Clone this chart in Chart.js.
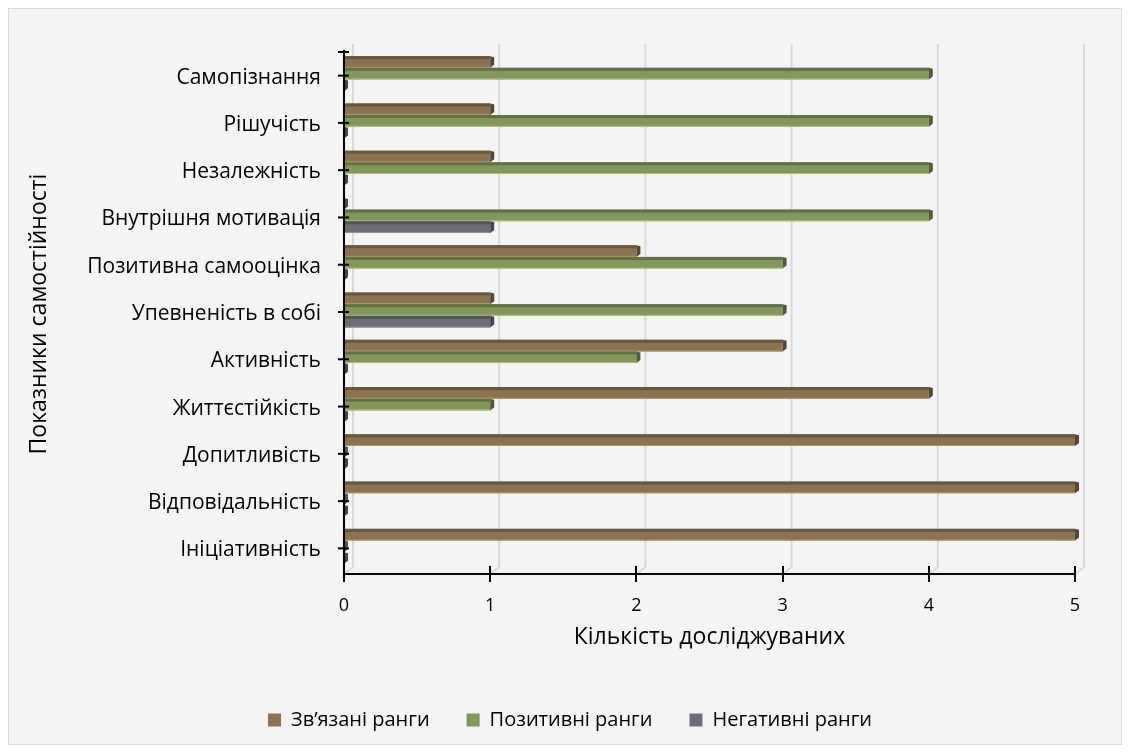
<!DOCTYPE html>
<html lang="uk">
<head>
<meta charset="utf-8">
<title>Показники самостійності</title>
<script src="https://cdn.jsdelivr.net/npm/chart.js@4/dist/chart.umd.min.js"></script>
<style>
    html, body { margin: 0; padding: 0; background: #ffffff; }
    #wrap { position: relative; width: 1130px; height: 753px; }
</style>
</head>
<body>
<div id="wrap"><canvas id="chart" width="1130" height="753"></canvas></div>
<script>
// Показники самостійності (зверху вниз)
const categories = [
    'Самопізнання', 'Рішучість', 'Незалежність', 'Внутрішня мотивація',
    'Позитивна самооцінка', 'Упевненість в собі', 'Активність',
    'Життєстійкість', 'Допитливість', 'Відповідальність', 'Ініціативність'
];
const tiedRanks     = [1, 1, 1, 0, 2, 1, 3, 4, 5, 5, 5];
const positiveRanks = [4, 4, 4, 4, 3, 3, 2, 1, 0, 0, 0];
const negativeRanks = [0, 0, 0, 1, 0, 1, 0, 0, 0, 0, 0];
const valueTicks = [0, 1, 2, 3, 4, 5];

const FONT = '"Open Sans", "Noto Sans", sans-serif';
const DEPTH = 9;     // зсув задньої стінки
const LIFT = 4;      // смуги трохи вище за центр категорії

function shade(rgb, k) {
    return 'rgb(' + rgb.map(c => Math.min(255, Math.round(c * k))).join(',') + ')';
}

const palette = {
    tied: [139, 115, 81],
    pos: [131, 150, 91],
    neg: [110, 110, 118]
};

// рамка і фон
const frame = {
    id: 'frame',
    beforeDraw(chart) {
        const ctx = chart.ctx;
        ctx.save();
        ctx.fillStyle = '#ffffff';
        ctx.fillRect(0, 0, chart.width, chart.height);
        ctx.fillStyle = '#f4f4f4';
        ctx.fillRect(8, 8, chart.width - 16, chart.height - 16);
        ctx.strokeStyle = '#d9d9d9';
        ctx.lineWidth = 1;
        ctx.strokeRect(8.5, 8.5, chart.width - 17, chart.height - 17);
        ctx.restore();
    },
    // легенда по центру всього полотна, а не області з відступами
    afterLayout(chart) {
        const lg = chart.legend;
        const shift = (chart.width - (lg.left + lg.right)) / 2 + 5;
        lg.left += shift;
        lg.right += shift;
    }
};

// задня стінка: вертикальні лінії сітки з перспективою
const backWall = {
    id: 'backWall',
    beforeDatasetsDraw(chart) {
        const { ctx, chartArea } = chart;
        const xs = chart.scales.x;
        ctx.save();
        ctx.strokeStyle = '#d9d9d9';
        ctx.lineWidth = 2;
        valueTicks.forEach(v => {
            const px = xs.getPixelForValue(v);
            ctx.beginPath();
            ctx.moveTo(px + DEPTH, chartArea.top - 10);
            ctx.lineTo(px + DEPTH, chartArea.bottom - 7);
            ctx.lineTo(px, chartArea.bottom);
            ctx.stroke();
        });
        ctx.restore();
    },
    beforeDatasetDraw(chart) {
        chart.ctx.save();
        chart.ctx.translate(0, -LIFT);
    },
    afterDatasetDraw(chart) {
        chart.ctx.restore();
    }
};

// об'ємні грані смуг і осі з рисками
const bars3d = {
    id: 'bars3d',
    afterDatasetsDraw(chart) {
        const { ctx, chartArea } = chart;
        ctx.save();
        chart.data.datasets.forEach((ds, i) => {
            const meta = chart.getDatasetMeta(i);
            const rgb = ds.rgb;
            meta.data.forEach(bar => {
                const p = bar.getProps(['x', 'y', 'base', 'height'], true);
                const top = p.y - p.height / 2 - LIFT;
                const bottom = p.y + p.height / 2 - LIFT;
                const end = p.x;
                // верхня грань і світлий низ
                if (end - p.base > 0) {
                    ctx.fillStyle = shade(rgb, 0.75);
                    ctx.fillRect(p.base, top, end - p.base, 3);
                    ctx.fillStyle = shade(rgb, 1.3);
                    ctx.fillRect(p.base, bottom - 1, end - p.base, 1);
                }
                // торець
                ctx.fillStyle = shade(rgb, 0.62);
                ctx.beginPath();
                ctx.moveTo(end, top);
                ctx.lineTo(end + 4, top + 1);
                ctx.lineTo(end + 4, bottom - 3);
                ctx.lineTo(end, bottom);
                ctx.closePath();
                ctx.fill();
            });
        });

        // осі
        const xs = chart.scales.x;
        const ys = chart.scales.y;
        ctx.strokeStyle = '#000000';
        ctx.lineWidth = 2;
        ctx.beginPath();
        ctx.moveTo(chartArea.left, chartArea.top - 4);
        ctx.lineTo(chartArea.left, chartArea.bottom);
        ctx.lineTo(chartArea.right, chartArea.bottom);
        ctx.stroke();
        // риски по осі значень
        valueTicks.forEach(v => {
            const px = Math.round(xs.getPixelForValue(v));
            ctx.beginPath();
            ctx.moveTo(px, chartArea.bottom - 8);
            ctx.lineTo(px, chartArea.bottom + 8);
            ctx.stroke();
        });
        // риски по осі категорій
        const marks = [chartArea.top - 2].concat(categories.map((c, i) => ys.getPixelForValue(i) - 2));
        marks.forEach(py => {
            ctx.beginPath();
            ctx.moveTo(chartArea.left - 6, py);
            ctx.lineTo(chartArea.left + 5, py);
            ctx.stroke();
        });
        ctx.restore();
    }
};

function makeSet(label, data, rgb) {
    return {
        label,
        data,
        rgb,
        backgroundColor: shade(rgb, 1),
        borderWidth: 0,
        clip: false,
        categoryPercentage: 0.74,
        barPercentage: 1.0
    };
}

new Chart(document.getElementById('chart'), {
    type: 'bar',
    data: {
        labels: categories,
        datasets: [
            makeSet('Зв’язані ранги', tiedRanks, palette.tied),
            makeSet('Позитивні ранги', positiveRanks, palette.pos),
            makeSet('Негативні ранги', negativeRanks, palette.neg)
        ]
    },
    options: {
        indexAxis: 'y',
        responsive: false,
        animation: false,
        layout: { padding: { left: 22, right: 55, top: 54, bottom: 13 } },
        plugins: {
            legend: {
                position: 'bottom',
                labels: {
                    boxWidth: 13,
                    boxHeight: 13,
                    padding: 37,
                    color: '#000000',
                    font: { family: FONT, size: 20 }
                }
            },
            tooltip: { enabled: false }
        },
        scales: {
            x: {
                min: 0,
                max: 5,
                grid: { display: false, drawTicks: false },
                border: { display: false },
                ticks: {
                    stepSize: 1,
                    padding: 21,
                    color: '#000000',
                    font: { family: FONT, size: 18 }
                },
                title: {
                    display: true,
                    text: 'Кількість досліджуваних',
                    color: '#000000',
                    font: { family: FONT, size: 23 },
                    padding: { top: 4, bottom: 22 }
                },
                afterFit(scale) { scale.height = 99; }
            },
            y: {
                grid: { display: false, drawTicks: false },
                border: { display: false },
                ticks: {
                    padding: 23,
                    color: '#000000',
                    font: { family: FONT, size: 21 }
                },
                title: {
                    display: true,
                    text: 'Показники самостійності',
                    color: '#000000',
                    font: { family: FONT, size: 23 },
                    padding: { top: 4, bottom: 4 }
                },
                afterFit(scale) { scale.width = 322; }
            }
        }
    },
    plugins: [frame, backWall, bars3d]
});
</script>
</body>
</html>
